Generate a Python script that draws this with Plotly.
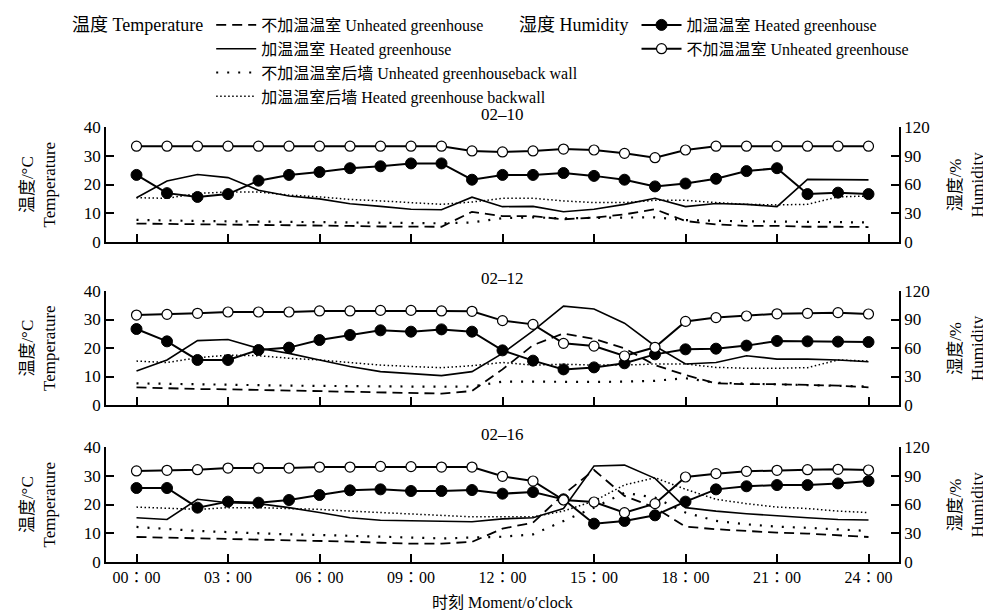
import plotly.graph_objects as go

hours = list(range(25))
tick_vals = [0, 3, 6, 9, 12, 15, 18, 21, 24]
tick_text = ["00∶00", "03∶00", "06∶00", "09∶00", "12∶00", "15∶00", "18∶00", "21∶00", "24∶00"]
panel_titles = ["02–10", "02–12", "02–16"]

# Panel 1 : 02-10
unheated_temp_1 = [6.4, 6.3, 6.1, 6.1, 6.0, 5.9, 5.9, 5.6, 5.4, 5.3, 5.3, 10.5, 9.0, 9.0, 7.9, 8.5, 9.6, 11.4, 7.3, 6.1, 5.6, 5.6, 5.3, 5.3, 5.2]
heated_temp_1 = [15.4, 21.2, 23.5, 22.4, 18.0, 16.0, 15.0, 13.3, 12.4, 11.4, 11.2, 15.6, 12.3, 12.4, 10.5, 11.4, 13.1, 15.2, 12.3, 13.4, 13.1, 12.3, 21.8, 21.7, 21.6]
unheated_wall_1 = [7.7, 7.4, 7.3, 7.2, 7.1, 7.0, 6.9, 6.8, 6.7, 6.7, 6.5, 6.8, 8.3, 8.6, 8.2, 8.4, 8.6, 8.6, 7.6, 7.3, 7.2, 7.1, 7.0, 6.9, 6.8]
heated_wall_1 = [15.4, 15.2, 16.9, 17.4, 17.4, 16.3, 15.7, 14.8, 14.3, 13.6, 13.1, 13.9, 15.2, 15.2, 14.3, 13.7, 13.7, 14.5, 14.5, 13.7, 13.1, 12.9, 13.1, 15.7, 16.0]
heated_hum_1 = [70, 51, 47, 50, 64, 70, 73, 77, 79, 82, 82, 65, 70, 70, 72, 69, 65, 58, 61, 66, 74, 77, 50, 51.5, 50]
unheated_hum_1 = [100, 100, 100, 100, 100, 100, 100, 100, 100, 100, 100, 95, 94, 95, 97, 96, 92.5, 88, 96, 100, 100, 100, 100, 100, 100]

# Panel 2 : 02-12
unheated_temp_2 = [6.2, 5.8, 5.6, 5.5, 5.3, 5.1, 4.9, 4.7, 4.3, 4.1, 4.0, 4.9, 12.5, 21.0, 25.1, 23.2, 19.9, 14.0, 10.5, 7.6, 7.3, 7.3, 7.0, 6.8, 6.2]
heated_temp_2 = [11.9, 15.8, 22.6, 23.0, 19.9, 18.1, 15.8, 13.5, 11.7, 11.1, 10.3, 11.7, 18.1, 26.0, 34.7, 33.7, 28.7, 20.7, 14.4, 14.9, 17.3, 16.1, 16.1, 15.8, 15.2]
unheated_wall_2 = [7.6, 7.4, 7.2, 7.0, 6.9, 6.8, 6.7, 6.6, 6.5, 6.5, 6.4, 6.5, 8.2, 8.2, 8.1, 8.1, 8.2, 8.5, 9.4, 7.8, 7.5, 7.2, 7.0, 6.8, 6.5]
heated_wall_2 = [15.4, 14.9, 16.6, 17.5, 17.3, 16.4, 15.8, 15.0, 14.0, 13.5, 13.1, 13.8, 14.9, 14.0, 14.3, 14.0, 14.0, 14.4, 14.4, 13.2, 12.9, 12.9, 13.1, 15.8, 15.4]
heated_hum_2 = [80, 67, 47.4, 47.4, 57.9, 60.4, 68.4, 73.7, 78.6, 77.2, 79.6, 77.2, 57.5, 46.7, 37.5, 39.6, 43.9, 53.3, 58.6, 59.3, 62.5, 67.4, 67, 66.7, 66.3]
unheated_hum_2 = [94.7, 95.4, 96.5, 97.9, 97.9, 97.9, 99, 99, 99.6, 99.6, 99, 98.6, 88.8, 84.9, 64.9, 62, 51.6, 60.7, 88, 92, 93.7, 96, 96.5, 97.2, 95.8]

# Panel 3 : 02-16
unheated_temp_3 = [8.7, 8.5, 8.1, 7.9, 7.7, 7.5, 7.5, 7.1, 6.7, 6.4, 6.4, 7.0, 11.6, 13.7, 23.5, 32.0, 23.0, 18.9, 12.3, 11.4, 10.8, 10.2, 9.9, 9.4, 8.7]
heated_temp_3 = [15.4, 14.8, 21.8, 20.6, 20.3, 18.9, 17.2, 15.4, 14.5, 14.3, 14.3, 14.0, 15.0, 15.4, 18.6, 33.4, 33.7, 29.1, 18.9, 17.7, 16.8, 16.0, 15.4, 14.8, 14.6]
unheated_wall_3 = [12.2, 11.4, 10.8, 10.4, 9.9, 9.6, 9.4, 9.0, 8.8, 8.5, 8.2, 8.5, 8.8, 9.6, 14.3, 18.9, 24.1, 22.4, 17.2, 14.3, 13.1, 12.3, 11.9, 11.4, 10.8]
heated_wall_3 = [19.1, 18.7, 18.3, 18.9, 18.9, 18.6, 18.3, 17.7, 17.2, 16.6, 16.0, 15.7, 15.7, 15.7, 17.7, 21.2, 26.8, 29.3, 25.3, 21.8, 20.3, 19.1, 18.6, 17.7, 17.2]
heated_hum_3 = [77.2, 77.2, 56.7, 63, 61.9, 64.7, 69.9, 74.8, 75.8, 74.1, 74.1, 75.1, 71.3, 73, 65.4, 40, 42.8, 48.7, 63, 75.8, 79, 80.3, 80.3, 82, 84.5]
unheated_hum_3 = [95, 95.7, 96.3, 98, 98, 98, 99.1, 99.1, 99.8, 99.5, 99.1, 99.1, 89.4, 84.5, 64.7, 62.6, 51.5, 60.9, 88.7, 92.2, 94.6, 95.7, 96.3, 96.7, 96]

panels = [
    (unheated_temp_1, heated_temp_1, unheated_wall_1, heated_wall_1, heated_hum_1, unheated_hum_1),
    (unheated_temp_2, heated_temp_2, unheated_wall_2, heated_wall_2, heated_hum_2, unheated_hum_2),
    (unheated_temp_3, heated_temp_3, unheated_wall_3, heated_wall_3, heated_hum_3, unheated_hum_3),
]

FONT = "Liberation Serif, 'Noto Sans CJK SC', serif"
W, H = 991, 612
L, R, T, B = 98, 100, 119, 58
plot_h = H - T - B
plot_w = W - L - R
px_domains = [(119, 234), (283, 397), (439, 554)]
domains = [((H - B - b) / plot_h, (H - B - t) / plot_h) for (t, b) in px_domains]

fig = go.Figure()

names_temp = ["不加温温室 Unheated greenhouse", "加温温室 Heated greenhouse",
              "不加温温室后墙 Unheated greenhouseback wall", "加温温室后墙 Heated greenhouse backwall"]
styles_temp = [dict(dash="10px,6px", width=1.8), dict(dash="solid", width=1.6),
               dict(dash="2px,9px", width=2.2), dict(dash="1.5px,2.5px", width=1.5)]
names_hum = ["加温温室 Heated greenhouse", "不加温温室 Unheated greenhouse"]

for i, series in enumerate(panels):
    xa = "x" if i == 0 else f"x{i + 1}"
    ya_left = f"y{2 * i + 1}" if i > 0 else "y"
    ya_right = f"y{2 * i + 2}"
    for j in range(4):
        fig.add_trace(go.Scatter(
            x=hours, y=series[j], mode="lines", name=names_temp[j],
            line=dict(color="black", **styles_temp[j]),
            xaxis=xa, yaxis=ya_left, legend="legend", legendgroup=f"t{j}",
            showlegend=(i == 0)))
    fig.add_trace(go.Scatter(
        x=hours, y=series[4], mode="lines+markers", name=names_hum[0],
        line=dict(color="black", width=2),
        marker=dict(symbol="circle", size=11, color="black", line=dict(color="black", width=1)),
        xaxis=xa, yaxis=ya_right, legend="legend2", legendgroup="h0",
        showlegend=(i == 0)))
    fig.add_trace(go.Scatter(
        x=hours, y=series[5], mode="lines+markers", name=names_hum[1],
        line=dict(color="black", width=2),
        marker=dict(symbol="circle", size=10, color="white", line=dict(color="black", width=1.2)),
        xaxis=xa, yaxis=ya_right, legend="legend2", legendgroup="h1",
        showlegend=(i == 0)))

axis_common = dict(showline=True, linecolor="black", linewidth=1.5, ticks="inside",
                   ticklen=8, tickwidth=1.5, tickcolor="black", showgrid=False, zeroline=False,
                   automargin=False,
                   tickfont=dict(family=FONT, size=17, color="black"))

layout = {}
for i in range(3):
    xkey = "xaxis" if i == 0 else f"xaxis{i + 1}"
    ykey_l = "yaxis" if i == 0 else f"yaxis{2 * i + 1}"
    ykey_r = f"yaxis{2 * i + 2}"
    ya_left_name = "y" if i == 0 else f"y{2 * i + 1}"
    xname = "x" if i == 0 else f"x{i + 1}"
    layout[xkey] = dict(axis_common, range=[-1, 25], tickvals=tick_vals, ticktext=tick_text,
                        showticklabels=(i == 2), anchor=ya_left_name, domain=[0, 1],
                        tickfont=dict(family=FONT, size=16, color="black"))
    layout[ykey_l] = dict(axis_common, range=[0, 40], tickvals=[0, 10, 20, 30, 40],
                          domain=list(domains[i]), anchor=xname)
    layout[ykey_r] = dict(axis_common, range=[0, 120], tickvals=[0, 30, 60, 90, 120],
                          overlaying=ya_left_name, side="right", anchor=xname)

annotations = []
for i in range(3):
    mid = (domains[i][0] + domains[i][1]) / 2
    annotations.append(dict(text=panel_titles[i], x=0.5, xref="paper", y=domains[i][1], yref="paper",
                            yanchor="bottom", yshift=1, showarrow=False,
                            font=dict(family=FONT, size=17, color="black")))
    annotations.append(dict(text="温度/°C<br>Temperature", x=(30 - L) / plot_w, xref="paper",
                            y=mid, yref="paper", textangle=-90, showarrow=False,
                            xanchor="center", yanchor="middle",
                            font=dict(family=FONT, size=17, color="black")))
    annotations.append(dict(text="湿度/%<br>Humidity", x=(958 - L) / plot_w, xref="paper",
                            y=mid, yref="paper", textangle=-90, showarrow=False,
                            xanchor="center", yanchor="middle",
                            font=dict(family=FONT, size=17, color="black")))
annotations.append(dict(text="时刻 Moment/o′clock", x=0.5, xref="paper",
                        y=(H - B - 594) / plot_h, yref="paper",
                        yanchor="middle", showarrow=False, font=dict(family=FONT, size=16, color="black")))

LEG_FONT = dict(family=FONT, size=16, color="black")
TITLE_FONT = dict(family=FONT, size=18, color="black")
fig.update_layout(
    width=W, height=H, margin=dict(l=L, r=R, t=T, b=B, autoexpand=False),
    paper_bgcolor="white", plot_bgcolor="white",
    font=dict(family=FONT, size=16, color="black"),
    annotations=annotations,
    legend=dict(title=dict(text="温度 Temperature", side="left", font=TITLE_FONT),
                xref="container", yref="container",
                x=62 / W, y=1.0, xanchor="left", yanchor="top", orientation="v",
                font=LEG_FONT, bgcolor="rgba(0,0,0,0)",
                tracegroupgap=0, itemwidth=40),
    legend2=dict(title=dict(text="湿度 Humidity", side="left", font=TITLE_FONT),
                 xref="container", yref="container",
                 x=509 / W, y=1.0, xanchor="left", yanchor="top", orientation="v",
                 font=LEG_FONT, bgcolor="rgba(0,0,0,0)",
                 tracegroupgap=0, itemwidth=40),
    **layout,
)

fig.write_html("out.html")
